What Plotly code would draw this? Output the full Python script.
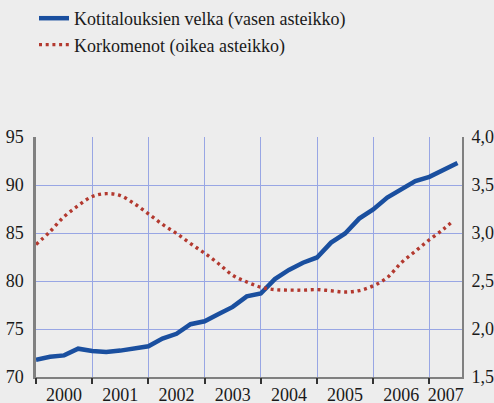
import plotly.graph_objects as go

# Household debt (left axis), quarterly from 2000Q1
debt_t = [2000 + k / 4 for k in range(31)]
debt = [71.8, 72.1, 72.25, 72.95, 72.7, 72.6, 72.75, 73.0,
        73.2, 74.0, 74.5, 75.5, 75.8, 76.55, 77.3, 78.4,
        78.7, 80.2, 81.15, 81.9, 82.45, 84.0, 84.95, 86.5,
        87.45, 88.7, 89.5, 90.4, 90.85, 91.6, 92.3]

# Interest expenses (right axis)
int_t = [2000 + k / 4 for k in range(30)] + [2007.42]
interest = [2.88, 3.015, 3.17, 3.285, 3.38, 3.41, 3.39, 3.305,
            3.20, 3.09, 2.995, 2.89, 2.79, 2.68, 2.56, 2.49,
            2.435, 2.41, 2.405, 2.405, 2.41, 2.398, 2.385, 2.40,
            2.45, 2.535, 2.69, 2.81, 2.93, 3.04, 3.125]

years = ["2000", "2001", "2002", "2003", "2004", "2005", "2006", "2007"]
year_label_pos = [2000.5, 2001.5, 2002.5, 2003.5, 2004.5, 2005.5, 2006.5, 2007.29]
year_bounds = [2000, 2001, 2002, 2003, 2004, 2005, 2006, 2007]

left_ticks = [70, 75, 80, 85, 90, 95]
right_ticks = [1.5, 2.0, 2.5, 3.0, 3.5, 4.0]
right_text = ["1,5", "2,0", "2,5", "3,0", "3,5", "4,0"]

BG = "#ededed"
GRID = "#98a6e4"
AXIS = "#808080"
FONT = "Liberation Serif"
FS = 18

fig = go.Figure()
fig.add_trace(go.Scatter(x=debt_t, y=debt, mode="lines",
                         name="Kotitalouksien velka (vasen asteikko)",
                         line=dict(color="#1a4f9f", width=4.5)))
fig.add_trace(go.Scatter(x=int_t, y=interest, mode="lines", yaxis="y2",
                         name="Korkomenot (oikea asteikko)",
                         line=dict(color="#b3392f", width=3.4, shape="spline",
                                   dash="3px,3.7px")))
# invisible trace that activates the boundary-tick axis
fig.add_trace(go.Scatter(x=[year_bounds[0]], y=[left_ticks[0]], xaxis="x2",
                         mode="markers", marker=dict(opacity=0),
                         showlegend=False, hoverinfo="skip"))

fig.update_layout(
    width=494, height=403,
    paper_bgcolor=BG, plot_bgcolor=BG,
    margin=dict(l=36, r=32, t=137, b=26, autoexpand=False),
    font=dict(family=FONT, size=FS, color="#1a1a1a"),
    showlegend=True,
    legend=dict(x=34 / 494, xref="container", y=1 + 2 / 403, yref="container",
                xanchor="left", yanchor="top", bgcolor="rgba(0,0,0,0)",
                font=dict(family=FONT, size=FS, color="#1a1a1a"),
                tracegroupgap=0, itemwidth=30),
    xaxis=dict(range=[2000, 2007.58], tickvals=year_label_pos, ticktext=years,
               ticks="", showgrid=False, zeroline=False, tickangle=0,
               showline=True, linecolor=AXIS, linewidth=2,
               tickfont=dict(family=FONT, size=FS)),
    xaxis2=dict(range=[2000, 2007.58], overlaying="x", anchor="y", side="bottom",
                tickvals=year_bounds, showticklabels=False,
                ticks="outside", ticklen=6, tickwidth=2, tickcolor="#333333",
                showgrid=True, gridcolor=GRID, gridwidth=1, zeroline=False),
    yaxis=dict(range=[70, 95], tickvals=left_ticks, ticks="",
               showgrid=True, gridcolor=GRID, gridwidth=1, zeroline=False,
               showline=True, linecolor=AXIS, linewidth=2.5, ticklabelstandoff=6,
               tickfont=dict(family=FONT, size=FS)),
    yaxis2=dict(range=[1.5, 4.0], tickvals=right_ticks, ticktext=right_text,
                overlaying="y", side="right", ticks="", showgrid=False,
                zeroline=False, showline=True, linecolor=AXIS, linewidth=2,
                ticklabelstandoff=4, tickfont=dict(family=FONT, size=FS)),
)

fig.write_html("out.html", config={"displayModeBar": False},
               post_script="document.body.style.margin='0';"
                           "document.body.style.background='#ededed';")
